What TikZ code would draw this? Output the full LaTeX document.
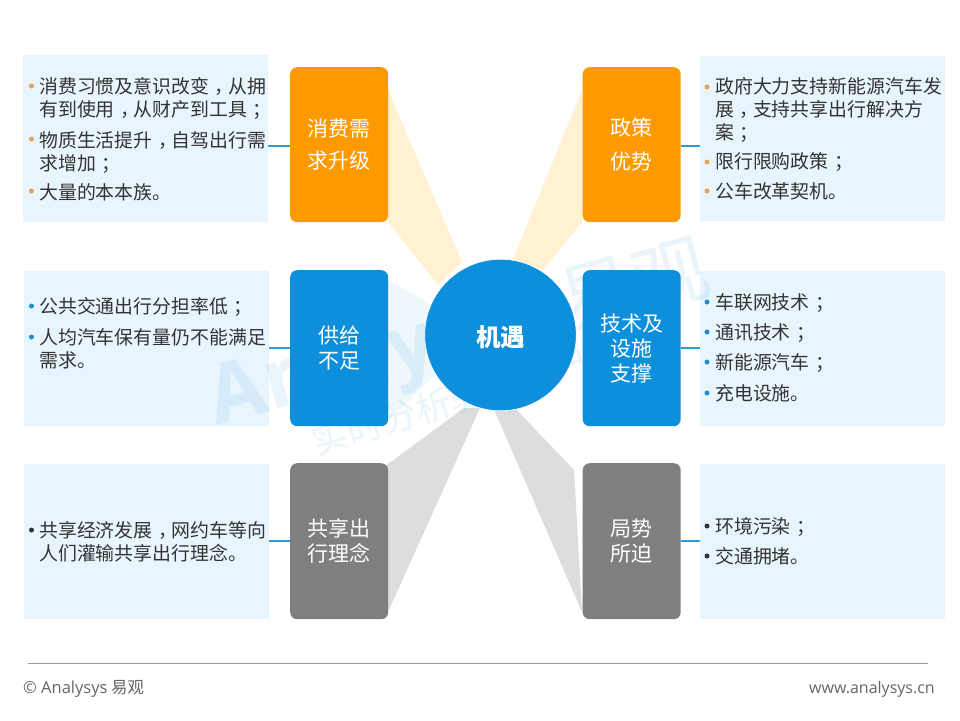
\documentclass[tikz,border=0pt]{standalone}
\usepackage{fontspec}
\setmainfont{Noto Sans CJK SC}
\newfontfamily\latinfoot{Open Sans}
\newcommand{\pcen}[1]{\kern.3em #1\kern-.3em}
\definecolor{panelbg}{HTML}{E9F5FD}
\definecolor{orangebox}{HTML}{FF9900}
\definecolor{bluebox}{HTML}{0D8FDC}
\definecolor{greybox}{HTML}{7F7F7F}
\definecolor{beamorange}{HTML}{FFF1D2}
\definecolor{beamblue}{HTML}{EEF7FC}
\definecolor{beamgrey}{HTML}{DDDDDD}
\definecolor{bodytext}{HTML}{333333}
\definecolor{dotorange}{HTML}{E8A25A}
\definecolor{dotblue}{HTML}{1C8FD0}
\definecolor{linkblue}{HTML}{2F9BD6}
\tikzset{
  panel/.style={fill=panelbg,draw=none,inner sep=0,anchor=north west},
  catbox/.style={rounded corners=7pt,draw=none,inner sep=0,anchor=north west,minimum width=98pt,text=white,align=center,font=\fontsize{21}{25}\selectfont},
  link/.style={draw=linkblue,line width=1.8pt},
  item/.style={anchor=north west,inner sep=0,text=bodytext,align=left,text width=232pt,font=\fontsize{18.9}{23}\selectfont},
  bullet/.style={circle,inner sep=0,minimum size=5pt,draw=none},
  wm/.style={text=bluebox,text opacity=0.09,inner sep=0}
}
\begin{document}
\begin{tikzpicture}[x=1pt,y=-1pt]
\useasboundingbox (0,0) rectangle (960,720);
\fill[white] (0,0) rectangle (960,720);
% text panels
\node[panel,minimum width=245pt,minimum height=167pt] (p1) at (23,55) {};
\node[panel,minimum width=245pt,minimum height=155pt] (p2) at (23.5,271) {};
\node[panel,minimum width=245pt,minimum height=155pt] (p3) at (23.5,464) {};
\node[panel,minimum width=245pt,minimum height=165pt] (p4) at (700,56) {};
\node[panel,minimum width=245pt,minimum height=155pt] (p5) at (700,271) {};
\node[panel,minimum width=245pt,minimum height=155pt] (p6) at (700,464) {};
% beams
\fill[beamorange] (388,90) -- (462,262) -- (438,285) -- (388,222) -- cycle;
\fill[beamorange] (582,90) -- (512,262) -- (535,280) -- (582,222) -- cycle;
\fill[beamblue] (388,280) -- (440,310) -- (440,370) -- (388,420) -- cycle;
\fill[beamgrey] (380,470) -- (464,408) -- (480,408) -- (388,612) -- cycle;
\fill[beamgrey] (574,470) -- (512,405) -- (492,405) -- (582,612) -- cycle;
% watermark
\node[wm,rotate=15,font=\latinfoot\bfseries\fontsize{82}{82}\selectfont] (w1) at (385,358) {Analysys};
\node[wm,rotate=15,font=\fontsize{76}{76}\selectfont] (w2) at (634,285) {易观};
\node[wm,rotate=17,font=\fontsize{36}{36}\selectfont] (w3) at (485,390) {实时分析驱动用户资产};
% category boxes
\node[catbox,fill=orangebox,minimum height=155pt] (b1) at (290,67) {消费需\\[7pt]求升级};
\node[catbox,fill=bluebox,minimum height=156pt] (b2) at (290,270) {供给\\不足};
\node[catbox,fill=greybox,minimum height=156pt] (b3) at (290,463) {共享出\\行理念};
\node[catbox,fill=orangebox,minimum height=155pt] (b4) at (582.5,67) {政策\\[9pt]优势};
\node[catbox,fill=bluebox,minimum height=156pt] (b5) at (582.5,270) {技术及\\设施\\支撑};
\node[catbox,fill=greybox,minimum height=156pt] (b6) at (582.5,463) {局势\\所迫};
% hub
\node[circle,fill=bluebox,draw=white,line width=0.6pt,minimum size=151.5pt,inner sep=0,text=white,font=\fontsize{24.5}{27}\selectfont\bfseries] (hub) at (500.5,335) {\smash{\raisebox{-11pt}{机遇}}};
% connectors
\draw[link] ([yshift=-1.5pt]p1.east |- b1.east) -- ([yshift=-1.5pt]b1.west);
\draw[link] (p2.east |- b2.east) -- (b2.west);
\draw[link] (p3.east |- b3.east) -- (b3.west);
\draw[link] ([yshift=-1.5pt]b4.east) -- ([yshift=-1.5pt]p4.west |- b4.east);
\draw[link] (b5.east) -- (p5.west |- b5.east);
\draw[link] (b6.east) -- (p6.west |- b6.east);
% panel 1
\node[item] (t11) at (39,77) {消费习惯及意识改变\pcen{，}从拥\\有到使用\pcen{，}从财产到工具\pcen{；}};
\node[item] (t12) at (39,131) {物质生活提升\pcen{，}自驾出行需\\求增加\pcen{；}};
\node[item] (t13) at (39,183) {大量的本本族。};
\node[bullet,fill=dotorange] (d11) at (31.5,86) {};
\node[bullet,fill=dotorange] (d12) at (31.5,139) {};
\node[bullet,fill=dotorange] (d13) at (31.5,191) {};
% panel 2
\node[item] (t21) at (39,297) {公共交通出行分担率低\pcen{；}};
\node[item] (t22) at (39,328) {人均汽车保有量仍不能满足\\需求。};
\node[bullet,fill=dotblue] (d21) at (31.5,306) {};
\node[bullet,fill=dotblue] (d22) at (31.5,337) {};
% panel 3
\node[item] (t31) at (39,521.5) {共享经济发展\pcen{，}网约车等向\\人们灌输共享出行理念。};
\node[bullet,fill=bodytext] (d31) at (31.5,530) {};
% panel 4
\node[item,text width=240pt] (t41) at (715,77) {政府大力支持新能源汽车发\\展\pcen{，}支持共享出行解决方\\案\pcen{；}};
\node[item] (t42) at (715,152) {限行限购政策\pcen{；}};
\node[item] (t43) at (715,182) {公车改革契机。};
\node[bullet,fill=dotorange] (d41) at (707,87) {};
\node[bullet,fill=dotorange] (d42) at (707,162) {};
\node[bullet,fill=dotorange] (d43) at (707,191) {};
% panel 5
\node[item] (t51) at (715,293) {车联网技术\pcen{；}};
\node[item] (t52) at (715,323) {通讯技术\pcen{；}};
\node[item] (t53) at (715,353) {新能源汽车\pcen{；}};
\node[item] (t54) at (715,384) {充电设施。};
\node[bullet,fill=dotblue] (d51) at (707,302) {};
\node[bullet,fill=dotblue] (d52) at (707,332) {};
\node[bullet,fill=dotblue] (d53) at (707,362) {};
\node[bullet,fill=dotblue] (d54) at (707,393) {};
% panel 6
\node[item] (t61) at (715,517) {环境污染\pcen{；}};
\node[item] (t62) at (715,547) {交通拥堵。};
\node[bullet,fill=bodytext] (d61) at (707,526) {};
\node[bullet,fill=bodytext] (d62) at (707,556) {};
% footer
\coordinate (fl) at (28,663);
\coordinate (fr) at (928,663);
\draw[draw=black!40,line width=0.7pt] (fl) -- (fr);
\node[anchor=west,inner sep=0,text=black!60,font=\fontsize{16.5}{18}\selectfont] (f1) at (23,689) {{\latinfoot © Analysys} 易观};
\node[anchor=east,inner sep=0,text=black!60,font=\latinfoot\fontsize{16}{18}\selectfont] (f2) at (935,689) {www.analysys.cn};
\end{tikzpicture}
\end{document}
